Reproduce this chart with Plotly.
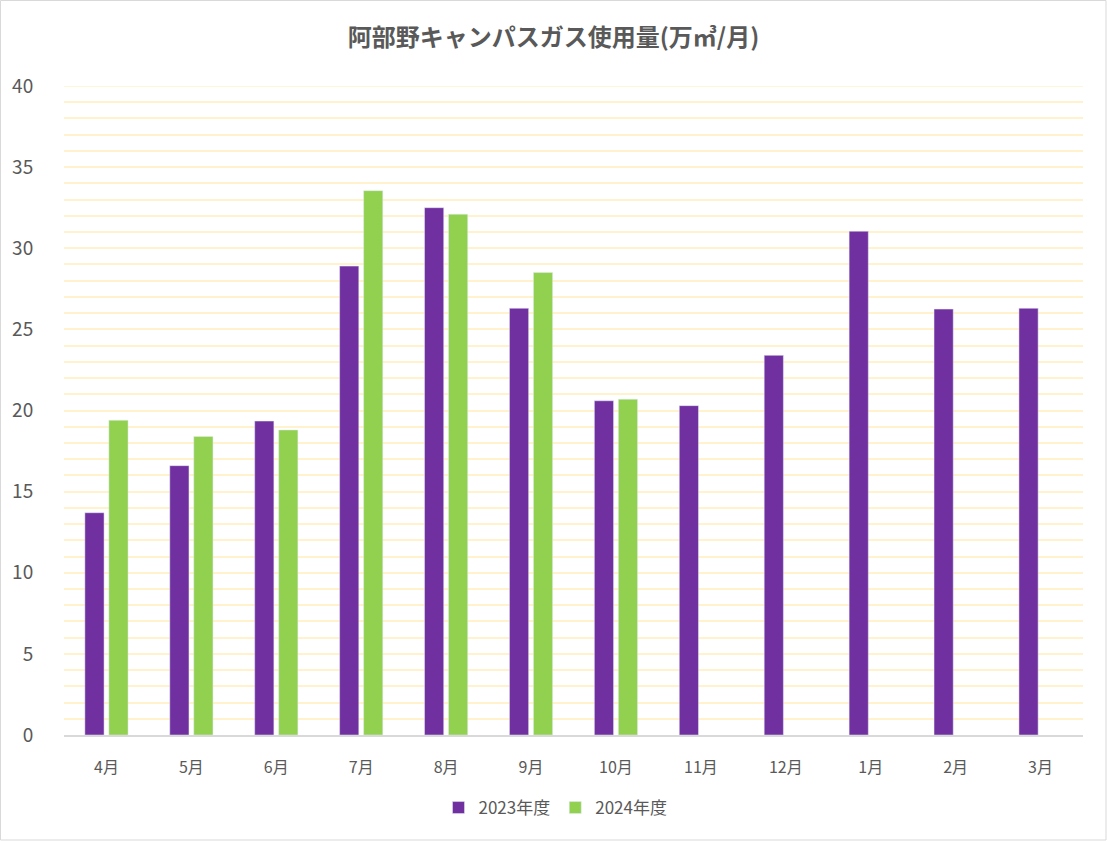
import plotly.graph_objects as go

months = ["4月", "5月", "6月", "7月", "8月", "9月", "10月", "11月", "12月", "1月", "2月", "3月"]
fy2023 = [13.7, 16.6, 19.35, 28.9, 32.5, 26.3, 20.6, 20.3, 23.4, 31.05, 26.25, 26.3]
fy2024 = [19.4, 18.4, 18.8, 33.55, 32.1, 28.5, 20.7, None, None, None, None, None]
series_names = ["2023年度", "2024年度"]
y_ticks = [0, 5, 10, 15, 20, 25, 30, 35, 40]

FONT = "Noto Sans CJK JP"
TXT = "#595959"
GRID = "#FFF2CC"

fig = go.Figure()
fig.add_trace(go.Bar(x=months, y=fy2023, name=series_names[0], marker_color="#7030A0"))
fig.add_trace(go.Bar(x=months, y=fy2024, name=series_names[1], marker_color="#92D050"))

fig.update_layout(
    width=1107, height=841,
    margin=dict(l=64, r=24, t=86, b=106),
    paper_bgcolor="white", plot_bgcolor="white",
    font=dict(family=FONT, color=TXT),
    barmode="group", bargap=0.435, bargroupgap=0.2,
    title=dict(text="<b>阿部野キャンパスガス使用量(万㎥/月)</b>", x=0.5, xanchor="center",
               y=1 - 38 / 841, yanchor="middle", font=dict(size=24, color=TXT, family=FONT)),
    legend=dict(orientation="h", x=0.5 - 18 / 1019, xanchor="center", y=-(808 - 735) / 649, yanchor="middle",
                font=dict(size=17, color=TXT, family=FONT), itemwidth=30, traceorder="normal"),
    showlegend=True,
)
fig.update_xaxes(showline=True, linecolor="#D9D9D9", linewidth=1.5, showgrid=False,
                 tickfont=dict(size=16, color=TXT), ticks="outside", ticklen=17, tickcolor="rgba(0,0,0,0)")
fig.update_yaxes(range=[0, 40], tickvals=y_ticks, showline=False, zeroline=False,
                 gridcolor=GRID, gridwidth=1.5,
                 minor=dict(dtick=1, showgrid=True, gridcolor=GRID, gridwidth=1.5),
                 tickfont=dict(size=19, color=TXT), ticks="outside", ticklen=26, tickcolor="rgba(0,0,0,0)")

# top gridline at the 40 tick (plotly clips gridlines at the plot edge)
fig.add_shape(type="line", xref="paper", yref="y", x0=0, x1=1, y0=40, y1=40,
              line=dict(color=GRID, width=1.5), layer="below")

fig.add_shape(type="rect", xref="paper", yref="paper",
              x0=-63.5 / 1019, x1=(1106 - 64) / 1019, y0=(735 - 840) / 649, y1=(735 - 0.5) / 649,
              line=dict(color="#D9D9D9", width=1), fillcolor="rgba(0,0,0,0)", layer="below")

fig.write_html("out.html")
